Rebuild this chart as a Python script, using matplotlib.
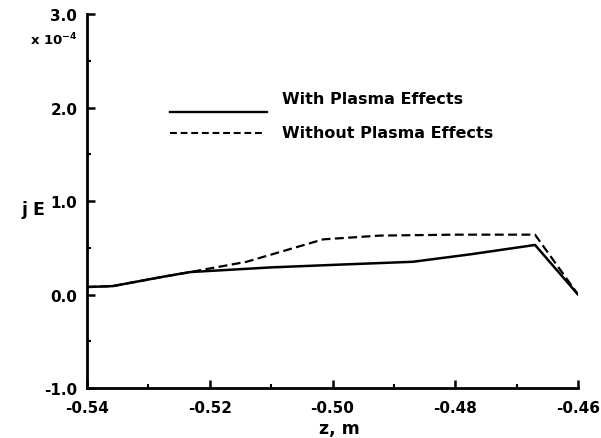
import matplotlib
matplotlib.use("Agg")
import matplotlib.pyplot as plt
from matplotlib.ticker import MultipleLocator
from matplotlib.lines import Line2D

plt.rcParams['font.family'] = ['DejaVu Sans']
plt.rcParams['font.weight'] = 'bold'
plt.rcParams['mathtext.fontset'] = 'custom'
plt.rcParams['mathtext.rm'] = 'DejaVu Sans:bold'
plt.rcParams['mathtext.bf'] = 'DejaVu Sans:bold'
plt.rcParams['mathtext.default'] = 'rm'

# Data (j E in units of 1e-4)
z_with = [-0.540, -0.5358, -0.5276, -0.5232, -0.510, -0.4987, -0.4869, -0.4775, -0.467, -0.460]
je_with = [0.08, 0.09, 0.19, 0.24, 0.29, 0.32, 0.35, 0.43, 0.53, 0.0]
z_without = [-0.540, -0.5358, -0.5276, -0.5232, -0.514, -0.5015, -0.4923, -0.480, -0.467, -0.460]
je_without = [0.08, 0.09, 0.19, 0.24, 0.35, 0.59, 0.63, 0.64, 0.64, 0.0]

label_with = "With Plasma Effects"
label_without = "Without Plasma Effects"
x_ticks = [-0.54, -0.52, -0.50, -0.48, -0.46]
x_ticklabels = ["-0.54", "-0.52", "-0.50", "-0.48", "-0.46"]
y_ticks = [-1.0, 0.0, 1.0, 2.0, 3.0]
y_ticklabels = ["-1.0", "0.0", "1.0", "2.0", "3.0"]

fig = plt.figure(figsize=(6.01, 4.39), dpi=100)
ax = fig.add_axes([0.1448, 0.1139, 0.8169, 0.8519])

ax.plot(z_with, je_with, color='black', lw=1.8, ls='-')
ax.plot(z_without, je_without, color='black', lw=1.6, ls=(0, (4, 2)))

ax.set_xlim(-0.54, -0.46)
ax.set_ylim(-1.0, 3.0)
ax.set_xticks(x_ticks)
ax.set_xticklabels(x_ticklabels)
ax.set_yticks(y_ticks)
ax.set_yticklabels(y_ticklabels)
ax.xaxis.set_minor_locator(MultipleLocator(0.01))
ax.yaxis.set_minor_locator(MultipleLocator(0.5))

for s in ['top', 'right']:
    ax.spines[s].set_visible(False)
for s in ['left', 'bottom']:
    ax.spines[s].set_linewidth(2)

ax.tick_params(which='major', direction='in', length=6, width=1.8, labelsize=11)
ax.tick_params(axis='x', which='major', pad=9)
ax.tick_params(axis='y', which='major', pad=7)
ax.tick_params(which='minor', direction='in', length=3, width=1.5)
for lbl in ax.get_xticklabels() + ax.get_yticklabels():
    lbl.set_fontweight('bold')

ax.set_xlabel("z, m", fontsize=12.5, fontweight='bold')
ax.xaxis.set_label_coords(0.515, -0.107)
ax.xaxis.label.set_verticalalignment('center')
ax.set_ylabel("j E", fontsize=12.5, fontweight='bold', rotation=0,
              ha='center', va='center')
ax.yaxis.set_label_coords(-0.11, 0.479)

fig.text(0.05, 0.908, r"x 10$^{-4}$", fontsize=9.5, fontweight='bold', va='center')

# Legend (drawn in axes fraction)
ax.add_line(Line2D([0.169, 0.367], [0.738, 0.738], transform=ax.transAxes,
                   color='black', lw=1.7, ls='-'))
ax.text(0.397, 0.775, label_with, transform=ax.transAxes, fontsize=11.5,
        fontweight='bold', va='center', ha='left')
ax.add_line(Line2D([0.169, 0.363], [0.682, 0.682], transform=ax.transAxes,
                   color='black', lw=1.5, ls=(0, (3.3, 1.8))))
ax.text(0.397, 0.684, label_without, transform=ax.transAxes, fontsize=11.5,
        fontweight='bold', va='center', ha='left')

fig.savefig("out.png", dpi=100)
